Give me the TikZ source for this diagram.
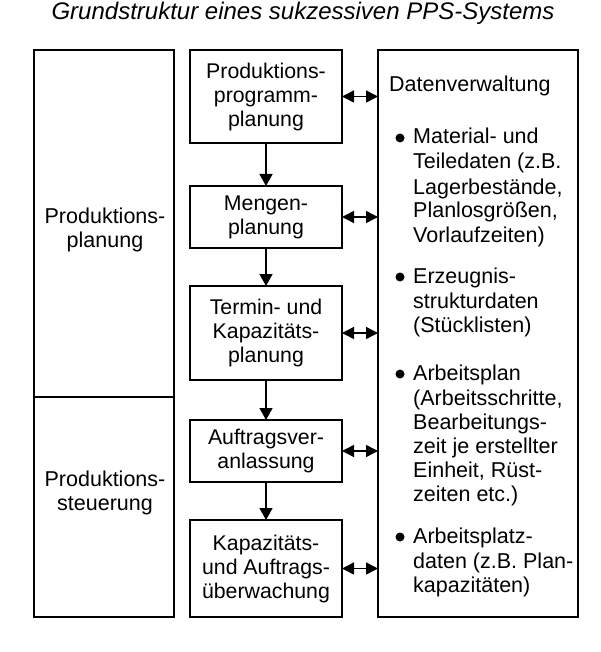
\documentclass[tikz,border=0pt]{standalone}
\usepackage{fontspec}
\setmainfont{Liberation Sans}
\usetikzlibrary{arrows.meta}
\begin{document}
\begin{tikzpicture}[x=1pt,y=-1pt,
  box/.style={draw, line width=1.8pt, rectangle, inner sep=0pt, outer sep=0pt},
  mid/.style={box, minimum width=152pt, align=center, font=\fontsize{21.3}{24}\selectfont},
  txt/.style={inner sep=0pt, font=\fontsize{21.5}{24}\selectfont},
  downarrow/.style={line width=1.4pt, -{Triangle[length=12pt,width=13pt]}},
  dblarrow/.style={line width=1.6pt, {Triangle[length=12pt,width=12pt]}-{Triangle[length=12pt,width=12pt]}},
  bullet/.style={circle, fill, inner sep=0pt, minimum size=9pt}]
\useasboundingbox (0,0) rectangle (600,652);
% title
\node[inner sep=0pt, anchor=base, font=\fontsize{24}{28}\selectfont\itshape] (title) at (303,20) {Grundstruktur eines sukzessiven PPS-Systems};
% left column
\node[box, minimum width=140pt, minimum height=347pt] (lp) at (104,223.5) {};
\node[box, minimum width=140pt, minimum height=220pt] (ls) at (104,507) {};
\node[txt, align=center] (lpt) at (105,230) {Produktions-\\planung};
\node[txt, align=center] (lst) at (105,493) {Produktions-\\steuerung};
% middle column
\node[mid, minimum height=93pt] (b1) at (266,96.5) {Produktions-\\programm-\\planung};
\node[mid, minimum height=62pt] (b2) at (266,217) {Mengen-\\planung};
\node[mid, minimum height=94pt] (b3) at (266,333) {Termin- und\\Kapazitäts-\\planung};
\node[mid, minimum height=62pt] (b4) at (266,451) {Auftragsver-\\anlassung};
\node[mid, minimum height=97pt] (b5) at (266,568.5) {Kapazitäts-\\und Auftrags-\\überwachung};
% right column
\node[box, minimum width=200pt, minimum height=567pt] (rb) at (478,333.5) {};
\node[txt, anchor=base west] (head) at (389,92) {Datenverwaltung};
\foreach \yy/\tt [count=\i] in {
  137/{Material- und}, 162/{Teiledaten (z.B.}, 187/{Lagerbestände,}, 211/{Planlosgrößen,}, 235/{Vorlaufzeiten)},
  276/{Erzeugnis-}, 301/{strukturdaten}, 325/{(Stücklisten)},
  373/{Arbeitsplan}, 398/{(Arbeitsschritte,}, 422/{Bearbeitungs-}, 446/{zeit je erstellter}, 470/{Einheit, Rüst-}, 494/{zeiten etc.)},
  536/{Arbeitsplatz-}, 561/{daten (z.B. Plan-}, 585/{kapazitäten)}}
  \node[txt, anchor=base west] (line\i) at (413,\yy+7) {\tt};
\foreach \yy [count=\i] in {138,277,374,537}
  \node[bullet] (bul\i) at (400,\yy) {};
% connectors
\draw[downarrow] (b1.south) -- (b2.north);
\draw[downarrow] (b2.south) -- (b3.north);
\draw[downarrow] (b3.south) -- (b4.north);
\draw[downarrow] (b4.south) -- (b5.north);
\foreach \b in {b1,b2,b3,b4,b5}
  \draw[dblarrow] (\b.east) -- (\b.east -| rb.west);
\end{tikzpicture}
\end{document}
